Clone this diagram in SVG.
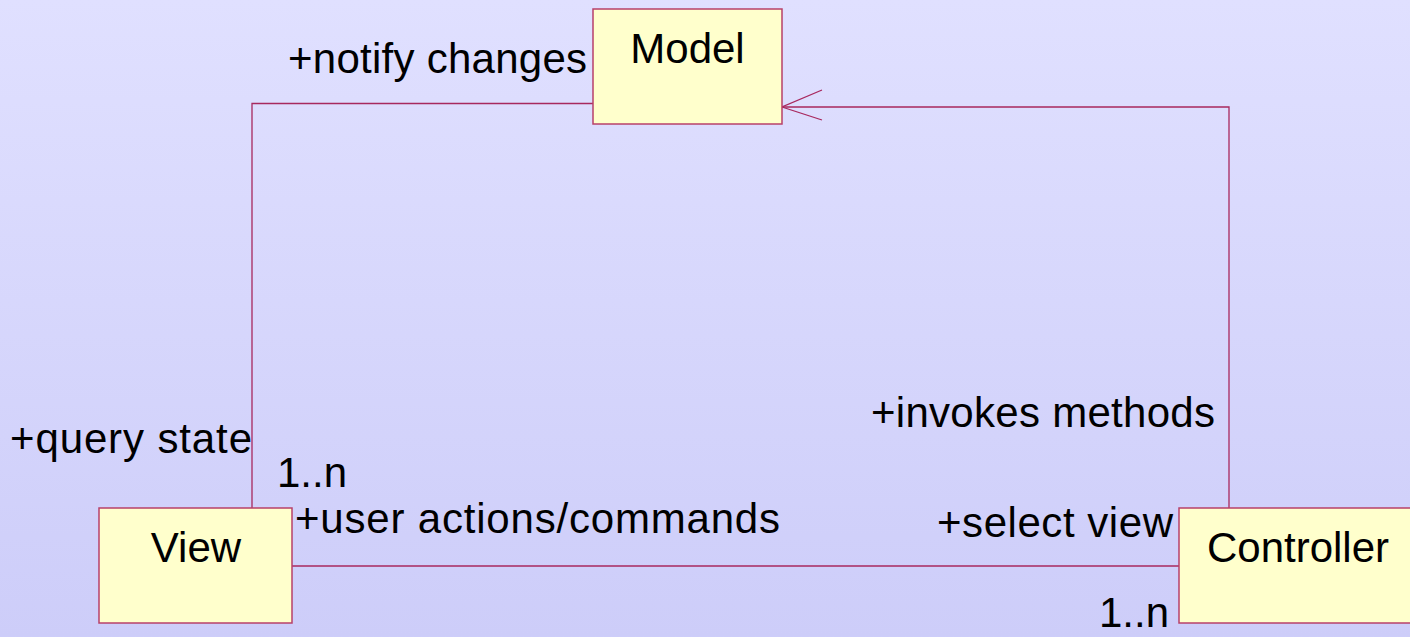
<svg xmlns="http://www.w3.org/2000/svg" width="1410" height="637" viewBox="0 0 1410 637">
<defs>
<linearGradient id="bg" x1="0" y1="0" x2="0" y2="1">
<stop offset="0" stop-color="#e0e0ff"/>
<stop offset="1" stop-color="#cdcdf9"/>
</linearGradient>
<style>
.box{fill:#ffffcc;stroke:#b8406a;stroke-width:1.5}
.ln{fill:none;stroke:#a8285e;stroke-width:1.3}
text{font-family:"Liberation Sans",Arial,sans-serif;font-size:42px;fill:#000}
.c{text-anchor:middle}
</style>
</defs>
<rect x="0" y="0" width="1410" height="637" fill="url(#bg)"/>
<g id="connectors">
<polyline class="ln" points="593,103.5 252,103.5 252,508"/>
<polyline class="ln" points="782,107 1229,107 1229,508"/>
<polyline class="ln" points="822,90 782,107 822,120"/>
<line class="ln" x1="292" y1="566" x2="1179" y2="566"/>
</g>
<g id="model">
<rect class="box" x="593" y="9" width="189" height="115"/>
<text class="c" x="687.5" y="63">Model</text>
</g>
<g id="view">
<rect class="box" x="99" y="508" width="193" height="115"/>
<text class="c" x="196" y="561.7">View</text>
</g>
<g id="controller">
<rect class="box" x="1179" y="508" width="238" height="115"/>
<text class="c" x="1298" y="561.7">Controller</text>
</g>
<g id="labels">
<text x="288" y="73" textLength="299" lengthAdjust="spacing">+notify changes</text>
<text x="10" y="452.5" textLength="242" lengthAdjust="spacing">+query state</text>
<text x="277" y="487">1..n</text>
<text x="295" y="533" textLength="485" lengthAdjust="spacing">+user actions/commands</text>
<text x="871" y="427" textLength="344" lengthAdjust="spacing">+invokes methods</text>
<text x="937" y="537" textLength="236" lengthAdjust="spacing">+select view</text>
<text x="1099" y="627">1..n</text>
</g>
</svg>
